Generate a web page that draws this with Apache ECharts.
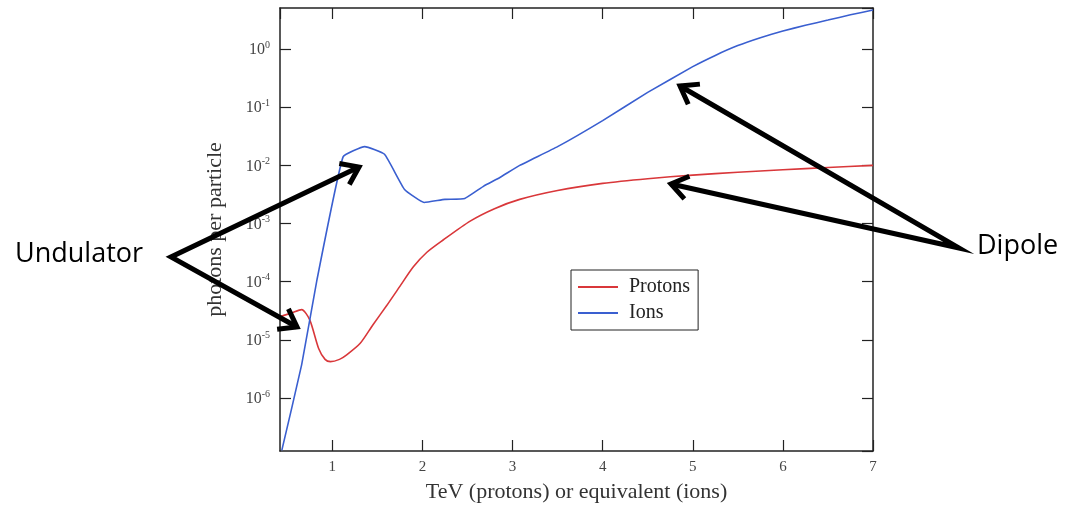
<!DOCTYPE html>
<html>
<head>
<meta charset="utf-8">
<script src="https://cdn.jsdelivr.net/npm/echarts@6/dist/echarts.min.js"></script>
<style>
html,body{margin:0;padding:0;background:#fff;}
#chart{width:1075px;height:510px;}
</style>
</head>
<body>
<div id="chart"></div>
<script>
// ---- data ----
const seriesNames = ['Protons', 'Ions'];
const protonsX = [0.42, 0.55, 0.66, 0.75, 0.85, 0.92, 0.98, 1.08, 1.16, 1.31, 1.45, 1.61, 1.75, 1.90, 2.05, 2.23, 2.53, 2.80, 3.08, 3.5, 4.0, 4.5, 5.0, 5.5, 6.0, 6.5, 7.0];
const protonsY = [2.5e-5, 2.9e-5, 3.3e-5, 2.2e-5, 7e-6, 4.6e-6, 4.2e-6, 4.6e-6, 5.5e-6, 8.7e-6, 1.8e-5, 4.0e-5, 8.3e-5, 1.8e-4, 3.2e-4, 5.2e-4, 1.1e-3, 1.8e-3, 2.6e-3, 3.7e-3, 4.9e-3, 5.9e-3, 6.8e-3, 7.6e-3, 8.4e-3, 9.2e-3, 1.0e-2];
const ionsX = [0.44, 0.66, 0.83, 1.12, 1.36, 1.58, 1.80, 2.02, 2.25, 2.47, 2.68, 2.86, 3.08, 3.5, 4.0, 4.5, 5.0, 5.25, 5.5, 5.75, 6.0, 6.25, 6.5, 6.75, 7.0];
const ionsY = [1.25e-7, 3.7e-6, 1.07e-4, 1.4e-2, 2.1e-2, 1.55e-2, 3.9e-3, 2.3e-3, 2.6e-3, 2.7e-3, 4.4e-3, 6.2e-3, 1.0e-2, 2.1e-2, 5.9e-2, 0.18, 0.5, 0.78, 1.15, 1.57, 2.05, 2.57, 3.16, 3.9, 4.7];
const xAxisTitle = 'TeV (protons) or equivalent (ions)';
const yAxisTitle = 'photons per particle';
const annotations = ['Undulator', 'Dipole'];

const serif = 'Liberation Serif';
const toPairs = (xs, ys) => xs.map((x, i) => [x, ys[i]]);

// ---- arrow annotations (pixel geometry, not data marks) ----
function head(tip, from, len, ang) {
  const dx = from[0] - tip[0], dy = from[1] - tip[1];
  const d = Math.hypot(dx, dy), ux = dx / d, uy = dy / d;
  const r = a => [tip[0] + len * (ux * Math.cos(a) - uy * Math.sin(a)), tip[1] + len * (ux * Math.sin(a) + uy * Math.cos(a))];
  return [r(ang), tip, r(-ang)];
}
function arrowPair(vertex, tipA, tipB) {
  const els = [];
  els.push({ type: 'polyline', shape: { points: [tipA, vertex, tipB] }, style: { stroke: '#000', lineWidth: 5, fill: null, lineJoin: 'miter' }, z: 100 });
  [tipA, tipB].forEach(t => {
    els.push({ type: 'polyline', shape: { points: head(t, vertex, 20, 0.62) }, style: { stroke: '#000', lineWidth: 5, fill: null, lineJoin: 'miter', lineCap: 'butt' }, z: 100 });
  });
  return els;
}

const chart = echarts.init(document.getElementById('chart'), null, { renderer: 'canvas' });

const yLabelFmt = v => {
  const e = Math.round(Math.log10(v));
  return '{b|10}{s|' + e + '}';
};
const yRich = {
  b: { fontFamily: serif, fontSize: 16, color: '#444', lineHeight: 18, verticalAlign: 'bottom' },
  s: { fontFamily: serif, fontSize: 10, color: '#444', lineHeight: 18, verticalAlign: 'top', padding: [0, 0, 8, 0] }
};

const axisLineStyle = { color: '#222', width: 1.5 };

const option = {
  backgroundColor: '#fff',
  animation: false,
  grid: { left: 280, right: 202, top: 8, bottom: 59, containLabel: false },
  legend: {
    orient: 'vertical',
    left: 571,
    top: 270,
    data: seriesNames,
    icon: 'rect',
    itemWidth: 40,
    itemHeight: 2,
    itemGap: 4,
    padding: [6, 8, 6, 7],
    borderColor: '#222',
    borderWidth: 1,
    textStyle: { fontFamily: serif, fontSize: 20, color: '#222', padding: [0, 0, 0, 6], lineHeight: 22 }
  },
  xAxis: [
    {
      type: 'value', min: 0.42, max: 7, position: 'bottom',
      name: xAxisTitle, nameLocation: 'middle', nameGap: 30,
      nameTextStyle: { fontFamily: serif, fontSize: 22, color: '#333' },
      axisLine: { show: true, lineStyle: axisLineStyle },
      axisTick: { show: true, inside: true, length: 11, lineStyle: { color: '#222', width: 1.2 } },
      axisLabel: { fontFamily: serif, fontSize: 15, color: '#444', margin: 9, showMinLabel: false },
      splitLine: { show: false }
    },
    {
      type: 'value', min: 0.42, max: 7, position: 'top',
      axisLine: { show: true, lineStyle: axisLineStyle },
      axisTick: { show: true, inside: true, length: 11, lineStyle: { color: '#222', width: 1.2 } },
      axisLabel: { show: false },
      splitLine: { show: false }
    }
  ],
  yAxis: [
    {
      type: 'log', min: 1.22e-7, max: 5.1, position: 'left', splitNumber: 8,
      name: yAxisTitle, nameLocation: 'middle', nameGap: 54,
      nameTextStyle: { fontFamily: serif, fontSize: 22, color: '#333' },
      axisLine: { show: true, lineStyle: axisLineStyle },
      axisTick: { show: true, inside: true, length: 11, lineStyle: { color: '#222', width: 1.2 } },
      axisLabel: { formatter: yLabelFmt, rich: yRich, margin: 10, showMinLabel: false, showMaxLabel: false },
      splitLine: { show: false }
    },
    {
      type: 'log', min: 1.22e-7, max: 5.1, position: 'right', splitNumber: 8,
      axisLine: { show: true, lineStyle: axisLineStyle },
      axisTick: { show: true, inside: true, length: 11, lineStyle: { color: '#222', width: 1.2 } },
      axisLabel: { show: false },
      splitLine: { show: false }
    }
  ],
  series: [
    {
      name: seriesNames[0], type: 'line', xAxisIndex: 0, yAxisIndex: 0,
      data: toPairs(protonsX, protonsY), smooth: 0.25, showSymbol: false,
      lineStyle: { color: '#d9373a', width: 1.6 }, itemStyle: { color: '#d9373a' }, clip: true
    },
    {
      name: seriesNames[1], type: 'line', xAxisIndex: 0, yAxisIndex: 0,
      data: toPairs(ionsX, ionsY), smooth: 0.12, showSymbol: false,
      lineStyle: { color: '#3a5fd0', width: 1.6 }, itemStyle: { color: '#3a5fd0' }, clip: true
    }
  ],
  graphic: [
    { type: 'text', left: 15, top: 241, style: { text: annotations[0], font: '27px "Open Sans"', fill: '#000' }, z: 100 },
    { type: 'text', left: 977, top: 233, style: { text: annotations[1], font: '27px "Open Sans"', fill: '#000' }, z: 100 }
  ].concat(arrowPair([171, 257], [359, 167], [297, 327]))
   .concat(arrowPair([959, 248], [680, 86], [671, 184]))
};

chart.setOption(option);
</script>
</body>
</html>
